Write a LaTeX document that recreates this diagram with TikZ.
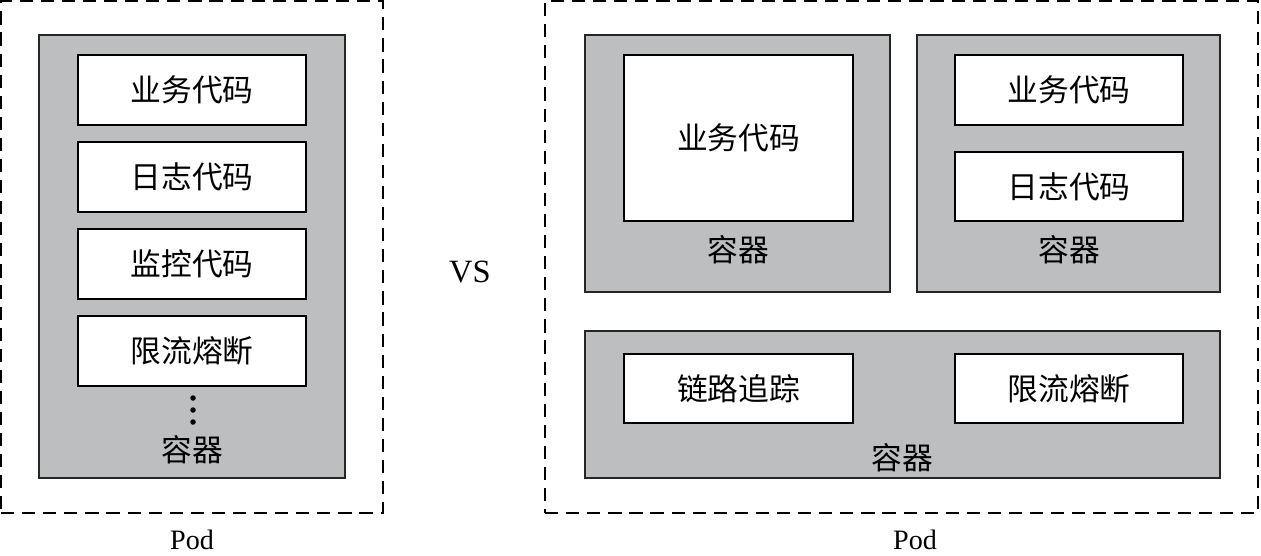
\documentclass[tikz,border=0pt]{standalone}
\usepackage{fontspec}
\setmainfont{Liberation Serif}
\newfontfamily\cjk{Noto Sans CJK SC}
\usetikzlibrary{positioning}
\definecolor{ctrgray}{RGB}{188,190,192}

\begin{document}
\begin{tikzpicture}[
    x=0.02cm, y=-0.02cm,
    pod/.style={
        draw,
        line width=1.3pt,
        dash pattern=on 7.5pt off 4.5pt
    },
    ctr/.style={
        draw=black!85,
        fill=ctrgray,
        line width=1.1pt
    },
    codebox/.style={
        draw,
        fill=white,
        line width=1.1pt,
        minimum width=4.56cm,
        minimum height=1.4cm,
        font=\cjk\fontsize{17.5}{20}\selectfont
    },
    lbl/.style={
        font=\cjk\fontsize{17.5}{20}\selectfont
    },
    latin/.style={
        inner sep=0pt,
        font=\fontsize{16}{19}\selectfont
    }
]
\useasboundingbox (0,0) rectangle (1261,555);

% Left pod: everything in one container
\node (podL) [pod, minimum width=7.64cm, minimum height=10.24cm] at (192,257) {};
\node (ctrL) [ctr, minimum width=6.12cm, minimum height=8.86cm] at (192,256.5) {};
\node (bizL)   [codebox] at (192,90)  {业务代码};
\node (logL)   [codebox] at (192,177) {日志代码};
\node (monL)   [codebox] at (192,264) {监控代码};
\node (limitL) [codebox] at (192,351) {限流熔断};
\foreach \y in {398,410,422}
    \fill (193,\y) circle (0.055cm);
\node (ctrLtxt) [lbl] at (192,450) {容器};
\node (podLtxt) [latin] at (192,540) {Pod};

\node (vs) [latin, font=\fontsize{18.5}{21}\selectfont] at (470,272) {VS};

% Right pod: one function per container
\node (podR) [pod, minimum width=14.26cm, minimum height=10.24cm] at (901.5,257) {};
\node (ctrA) [ctr, minimum width=6.1cm, minimum height=5.14cm] at (737.5,163.5) {};
\node (bizA) [codebox, minimum width=4.58cm, minimum height=3.32cm] at (738.5,138) {业务代码};
\node (ctrAtxt) [lbl] at (738,250) {容器};

\node (ctrB) [ctr, minimum width=6.06cm, minimum height=5.14cm] at (1068.5,163.5) {};
\node (bizB) [codebox] at (1069,90)    {业务代码};
\node (logB) [codebox, minimum height=1.38cm] at (1069,186.5) {日志代码};
\node (ctrBtxt) [lbl] at (1069,250) {容器};

\node (ctrC) [ctr, minimum width=12.7cm, minimum height=2.94cm] at (902.5,404.5) {};
\node (traceC) [codebox, minimum width=4.58cm, minimum height=1.38cm] at (738.5,388.5) {链路追踪};
\node (limitC) [codebox, minimum height=1.38cm] at (1069,388.5) {限流熔断};
\node (ctrCtxt) [lbl] at (902,458) {容器};
\node (podRtxt) [latin] at (915,540) {Pod};

\end{tikzpicture}
\end{document}
